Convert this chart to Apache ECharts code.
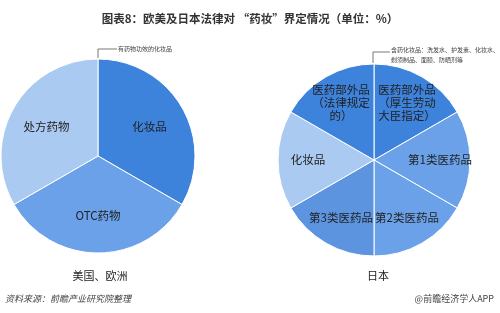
<!DOCTYPE html>
<html><head><meta charset="utf-8">
<script src="https://cdn.jsdelivr.net/npm/echarts@6/dist/echarts.min.js"></script>
<style>html,body{margin:0;padding:0;background:#fff}#c{width:500px;height:313px}</style>
</head><body><div id="c"></div>
<script>
var titleText = '图表8：欧美及日本法律对 “药妆”界定情况（单位：%）';
var leftCats = ['化妆品', 'OTC药物', '处方药物'];
var leftVals = [1, 1, 1];
var leftColors = ['#3d82db', '#6aa1e8', '#abcaf2'];
var rightCats = ['医药部外品\n（厚生劳动\n大臣指定）', '第1类医药品', '第2类医药品', '第3类医药品', '化妆品', '医药部外品\n（法律规定\n的）'];
var rightVals = [1, 1, 1, 1, 1, 1];
var rightColors = ['#3d82db', '#6aa1e8', '#6aa1e8', '#5c94e0', '#abcaf2', '#3d82db'];
var leftNote = '有药物功效的化妆品';
var rightNote = '含药化妆品：洗发水、护发素、化妆水、\n剃须制品、面膜、防晒剂等';
var leftName = '美国、欧洲';
var rightName = '日本';
var source = '资料来源：前瞻产业研究院整理';
var brand = '@前瞻经济学人APP';

var font = '"Noto Sans CJK SC", sans-serif';
function mk(cats, vals, cols){ return cats.map(function(c,i){return {name:c, value:vals[i], itemStyle:{color:cols[i]}};}); }
function mkT(cats, vals){ return cats.map(function(c,i){return {name:c, value:vals[i]};}); }
var lbl = {position:'inside', fontFamily:font, fontSize:11.5, color:'#222', lineHeight:13};
var chart = echarts.init(document.getElementById('c'));
chart.setOption({
  animation:false,
  title:{text:titleText, left:'center', top:8, textStyle:{fontFamily:font, fontSize:11.5, fontWeight:'bold', color:'#333'}},
  series:[
    {type:'pie', center:[98,156], radius:97, startAngle:90, silent:true, avoidLabelOverlap:false,
     itemStyle:{borderColor:'#fff', borderWidth:1}, label:{show:false},
     data:mk(leftCats,leftVals,leftColors)},
    {type:'pie', center:[98,156], radius:[16,97], startAngle:90, silent:true, avoidLabelOverlap:false,
     itemStyle:{color:'rgba(0,0,0,0)'}, label:lbl, labelLayout:{hideOverlap:false},
     data:mkT(leftCats,leftVals)},
    {type:'pie', center:[374,160], radius:96, startAngle:90, silent:true, avoidLabelOverlap:false,
     itemStyle:{borderColor:'#fff', borderWidth:1}, label:{show:false},
     data:mk(rightCats,rightVals,rightColors)},
    {type:'pie', center:[374,160], radius:[30,96], startAngle:90, silent:true, avoidLabelOverlap:false,
     itemStyle:{color:'rgba(0,0,0,0)'}, label:lbl, labelLayout:{hideOverlap:false},
     data:mkT(rightCats,rightVals)}
  ],
  graphic:[
    {type:'polyline', shape:{points:[[98,58],[98,49],[117,49]]}, style:{stroke:'#555', lineWidth:0.8, fill:null}},
    {type:'text', x:118, y:46, style:{text:leftNote, font:'6px '+font, fill:'#444'}},
    {type:'polyline', shape:{points:[[373,63],[373,52],[390,52]]}, style:{stroke:'#555', lineWidth:0.8, fill:null}},
    {type:'text', x:391, y:45, style:{text:rightNote, font:'6px '+font, fill:'#444', lineHeight:10}},
    {type:'text', x:100, y:276, style:{text:leftName, font:'11px '+font, fill:'#222', align:'center', verticalAlign:'middle'}},
    {type:'text', x:378, y:276, style:{text:rightName, font:'11px '+font, fill:'#222', align:'center', verticalAlign:'middle'}},
    {type:'text', x:5, y:299, style:{text:source, font:'italic 9px '+font, fill:'#444', verticalAlign:'middle'}},
    {type:'text', x:494, y:299, style:{text:brand, font:'9px '+font, fill:'#444', align:'right', verticalAlign:'middle'}}
  ]
});
</script></body></html>
